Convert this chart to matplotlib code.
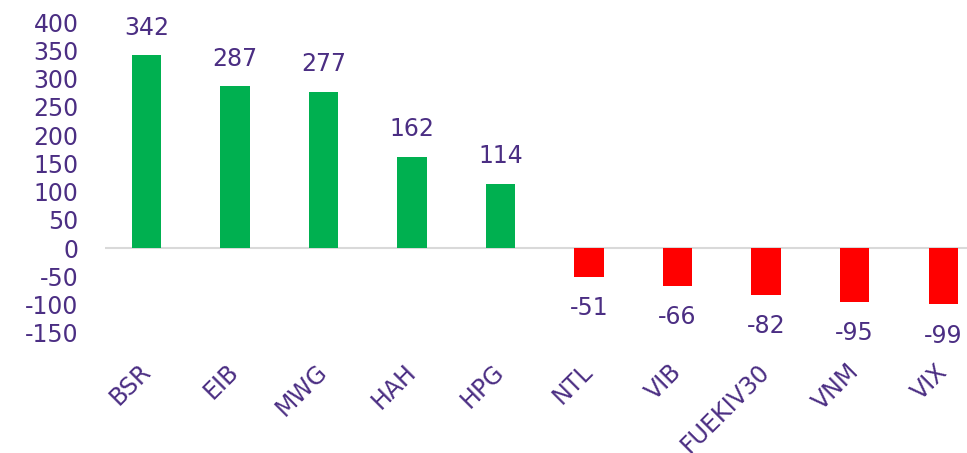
import matplotlib
matplotlib.use("Agg")
import matplotlib.pyplot as plt

categories = ["BSR", "EIB", "MWG", "HAH", "HPG", "NTL", "VIB", "FUEKIV30", "VNM", "VIX"]
values = [342, 287, 277, 162, 114, -51, -66, -82, -95, -99]
yticks = [-150, -100, -50, 0, 50, 100, 150, 200, 250, 300, 350, 400]

TXT = "#4B2E83"
GREEN = "#00B050"
RED = "#FF0000"
FS = 17

fig = plt.figure(figsize=(9.67, 4.53), dpi=100)
ax = fig.add_axes([105/967, 1-333/453, 1-105/967, (333-22)/453])

x = list(range(len(categories)))
colors = [GREEN if v >= 0 else RED for v in values]
ax.bar(x, values, width=0.33, color=colors, zorder=2)
ax.axhline(0, color="#D9D9D9", lw=1.5, zorder=1)

ax.set_xlim(-0.47, 9.27)
ax.set_ylim(-150, 400)
ax.set_yticks(yticks)
ax.set_yticklabels([str(t) for t in yticks], fontsize=FS, color=TXT)
ax.tick_params(axis="y", length=0, pad=19)
ax.tick_params(axis="x", length=0)
ax.set_xticks(x)
ax.set_xticklabels([])
for s in ax.spines.values():
    s.set_visible(False)

for xi, v in zip(x, values):
    if v >= 0:
        ax.annotate(str(v), (xi, v), xytext=(0, 11), textcoords="offset points",
                    ha="center", va="bottom", fontsize=FS, color=TXT)
    else:
        ax.annotate(str(v), (xi, v), xytext=(0, -14), textcoords="offset points",
                    ha="center", va="top", fontsize=FS, color=TXT)

for xi, c in zip(x, categories):
    ax.annotate(c, (xi, -150), xytext=(-6, -19), textcoords="offset points",
                ha="right", va="top", rotation=45, rotation_mode="anchor",
                fontsize=FS, color=TXT, annotation_clip=False)

fig.savefig("out.png", dpi=100)
